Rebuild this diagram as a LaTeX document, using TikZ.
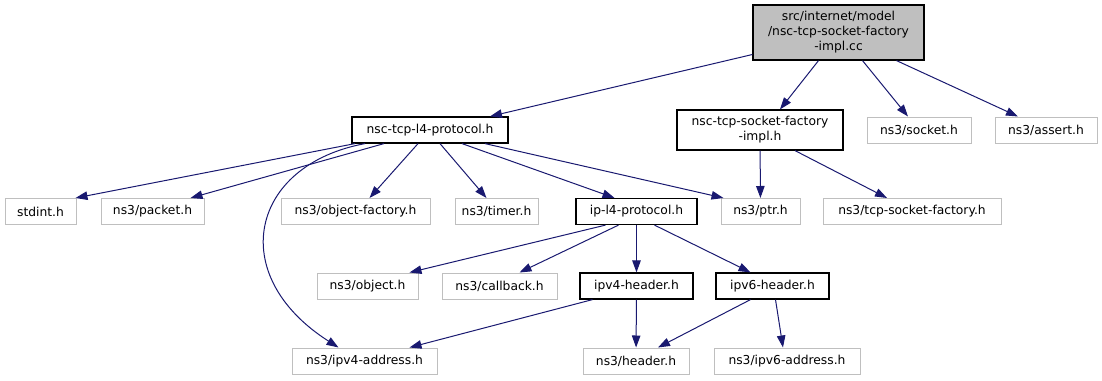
\documentclass[tikz,border=0pt]{standalone}
\usepackage{fontspec}
\setmainfont{DejaVu Sans}
\usetikzlibrary{arrows.meta}

\definecolor{edgeblue}{HTML}{191970}
\definecolor{extgray}{HTML}{BFBFBF}

\tikzset{
    box/.style={draw, rectangle, inner sep=0pt, minimum height=26pt,
        font=\fontsize{12.3}{15}\selectfont, align=center},
    hdr/.style={box, draw=black, line width=1.2pt},
    ext/.style={box, draw=extgray, line width=1pt},
    top/.style={hdr, fill=extgray},
    dep/.style={draw=edgeblue, line width=1pt,
        -{Triangle[length=12pt,width=8.5pt]}}
}

\begin{document}
\begin{tikzpicture}[x=1pt, y=-1pt]
        \useasboundingbox (0,0) rectangle (1102,380);

        \node[top, minimum width=171pt, minimum height=55pt] (root) at (838.5,32.5)
            {src/internet/model\\/nsc-tcp-socket-factory\\-impl.cc};

        % first level
        \node[hdr, minimum width=156pt] (l4proto) at (430,130) {nsc-tcp-l4-protocol.h};
        \node[hdr, minimum width=166pt, minimum height=40pt] (sockimpl) at (760,130)
            {nsc-tcp-socket-factory\\-impl.h};
        \node[ext, minimum width=104pt] (socket) at (919,130) {ns3/socket.h};
        \node[ext, minimum width=102pt] (assert) at (1046,130) {ns3/assert.h};

        % second level
        \node[ext, minimum width=71pt] (stdint) at (40.5,211.5) {stdint.h};
        \node[ext, minimum width=103pt] (packet) at (152.5,211.5) {ns3/packet.h};
        \node[ext, minimum width=149pt] (objfact) at (355.5,211.5) {ns3/object-factory.h};
        \node[ext, minimum width=83pt] (timer) at (496.5,211.5) {ns3/timer.h};
        \node[hdr, minimum width=121pt] (ipl4) at (636.5,211.5) {ip-l4-protocol.h};
        \node[ext, minimum width=79pt] (ptr) at (760.5,211.5) {ns3/ptr.h};
        \node[ext, minimum width=178pt] (tcpsf) at (912,211.5) {ns3/tcp-socket-factory.h};

        % third level
        \node[ext, minimum width=101pt] (object) at (367.5,286) {ns3/object.h};
        \node[ext, minimum width=115pt] (callback) at (499.5,286) {ns3/callback.h};
        \node[hdr, minimum width=113pt] (ipv4hdr) at (636.5,286) {ipv4-header.h};
        \node[hdr, minimum width=113pt] (ipv6hdr) at (772.5,286) {ipv6-header.h};

        % last level
        \node[ext, minimum width=145pt] (ipv4addr) at (364.5,361) {ns3/ipv4-address.h};
        \node[ext, minimum width=106pt] (header) at (636,361) {ns3/header.h};
        \node[ext, minimum width=146pt] (ipv6addr) at (787,361) {ns3/ipv6-address.h};

        \draw[dep] ([yshift=-22pt]root.west) -- ([xshift=60pt]l4proto.north);
        \draw[dep] ([xshift=-20pt]root.south) -- ([xshift=20pt]sockimpl.north);
        \draw[dep] ([xshift=24pt]root.south) -- ([xshift=-11pt]socket.north);
        \draw[dep] ([xshift=58pt]root.south) -- ([xshift=-28pt]assert.north);

        \draw[dep] ([xshift=-75pt]l4proto.south) -- ([xshift=35pt]stdint.north);
        \draw[dep] ([xshift=-46pt]l4proto.south) -- ([xshift=38pt]packet.north);
        \draw[dep] ([xshift=-65pt]l4proto.south) .. controls (250,165) and (225,275)
            .. ([xshift=-26pt]ipv4addr.north);
        \draw[dep] ([xshift=-12pt]l4proto.south) -- ([xshift=14pt]objfact.north);
        \draw[dep] ([xshift=10pt]l4proto.south) -- ([xshift=-10pt]timer.north);
        \draw[dep] ([xshift=32pt]l4proto.south) -- ([xshift=-22pt]ipl4.north);
        \draw[dep] ([xshift=55pt]l4proto.south) -- ([xshift=-37pt]ptr.north);

        \draw[dep] (sockimpl) -- (ptr);
        \draw[dep] ([xshift=35pt]sockimpl.south) -- ([xshift=-25pt]tcpsf.north);

        \draw[dep] ([xshift=-31pt]ipl4.south) -- ([xshift=42pt]object.north);
        \draw[dep] ([xshift=-18pt]ipl4.south) -- ([xshift=20pt]callback.north);
        \draw[dep] (ipl4) -- (ipv4hdr);
        \draw[dep] ([xshift=18pt]ipl4.south) -- ([xshift=-22pt]ipv6hdr.north);

        \draw[dep] ([xshift=-44pt]ipv4hdr.south) -- ([xshift=45pt]ipv4addr.north);
        \draw[dep] (ipv4hdr) -- (header);
        \draw[dep] ([xshift=-22pt]ipv6hdr.south) -- ([xshift=22pt]header.north);
        \draw[dep] ([xshift=3pt]ipv6hdr.south) -- ([xshift=-4pt]ipv6addr.north);
    \end{tikzpicture}
\end{document}
